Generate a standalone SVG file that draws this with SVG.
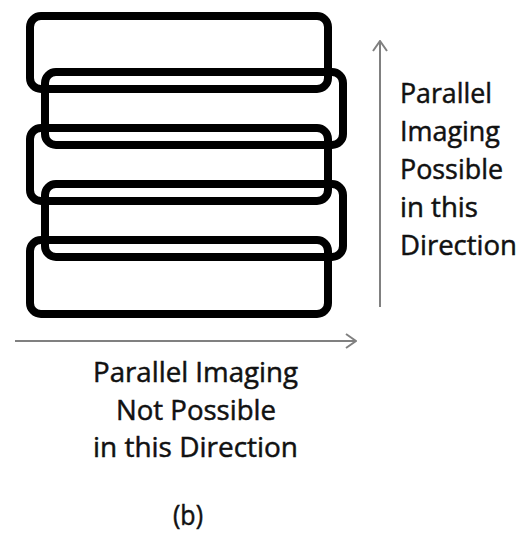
<svg xmlns="http://www.w3.org/2000/svg" width="523" height="535" viewBox="0 0 523 535">
  <style>
    .slice { fill: none; stroke: #000; stroke-width: 8; }
    .axis { fill: none; stroke: #808080; stroke-width: 2; }
    .lbl { font-family: "Open Sans", "Noto Sans", sans-serif; font-size: 28px; fill: #111; stroke: #111; stroke-width: 0.5; }
  </style>
  <defs>
    <marker id="chev" viewBox="0 0 12 16" refX="11" refY="8" markerWidth="12" markerHeight="16" markerUnits="userSpaceOnUse" orient="auto">
      <path d="M1,1 L11,8 L1,15" fill="none" stroke="#808080" stroke-width="2"/>
    </marker>
  </defs>
  <rect width="523" height="535" fill="#fff"/>
  <g id="slice1"><rect class="slice" x="30" y="16" width="298" height="73" rx="11"/></g>
  <g id="slice2"><rect class="slice" x="45" y="72" width="298" height="73" rx="11"/></g>
  <g id="slice3"><rect class="slice" x="30" y="128" width="298" height="73" rx="11"/></g>
  <g id="slice4"><rect class="slice" x="45" y="184" width="298" height="73" rx="11"/></g>
  <g id="slice5"><rect class="slice" x="30" y="240" width="298" height="74" rx="11"/></g>
  <g id="connectors">
    <line class="axis" x1="380" y1="307" x2="380" y2="41" marker-end="url(#chev)"/>
    <line class="axis" x1="15" y1="341" x2="356" y2="341" marker-end="url(#chev)"/>
  </g>
  <g id="label-possible">
    <text class="lbl" x="400" y="103" textLength="92" lengthAdjust="spacingAndGlyphs">Parallel</text>
    <text class="lbl" x="400" y="141" textLength="100" lengthAdjust="spacingAndGlyphs">Imaging</text>
    <text class="lbl" x="400" y="179" textLength="103" lengthAdjust="spacingAndGlyphs">Possible</text>
    <text class="lbl" x="400" y="217" textLength="78" lengthAdjust="spacingAndGlyphs">in this</text>
    <text class="lbl" x="400" y="255" textLength="117" lengthAdjust="spacingAndGlyphs">Direction</text>
  </g>
  <g id="label-not-possible" text-anchor="middle">
    <text class="lbl" x="195.5" y="382" textLength="205" lengthAdjust="spacingAndGlyphs">Parallel Imaging</text>
    <text class="lbl" x="196" y="420" textLength="160" lengthAdjust="spacingAndGlyphs">Not Possible</text>
    <text class="lbl" x="195.5" y="457" textLength="205" lengthAdjust="spacingAndGlyphs">in this Direction</text>
  </g>
  <g id="caption">
    <text class="lbl" x="188" y="525" text-anchor="middle" font-size="30" textLength="30" lengthAdjust="spacingAndGlyphs">(b)</text>
  </g>
</svg>
